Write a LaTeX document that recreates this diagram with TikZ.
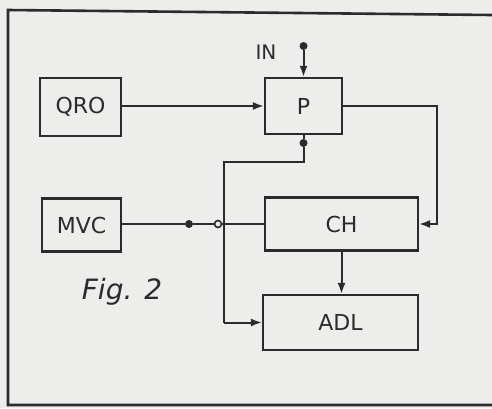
\documentclass[tikz,border=0pt]{standalone}
\usepackage{fontspec}
\setmainfont{DejaVu Sans}
\usetikzlibrary{arrows.meta}
\definecolor{paper}{HTML}{EDEDEB}
\definecolor{ink}{HTML}{2B2B2B}
\tikzset{
  blockbox/.style={draw=ink, line width=2.2pt, minimum width=#1, inner sep=0pt},
  wire/.style={draw=ink, line width=2pt},
  arr/.style={wire, -{Latex[length=11pt,width=8pt]}},
  lbl/.style={text=ink, font=\fontsize{22}{24}\selectfont},
  dot/.style={circle, fill=ink, inner sep=0pt, minimum size=8pt},
  odot/.style={circle, draw=ink, fill=paper, line width=1.6pt, inner sep=0pt, minimum size=7pt}
}
\begin{document}
\begin{tikzpicture}[x=1pt,y=-1pt]
\fill[paper] (0,0) rectangle (492,408);
\useasboundingbox (0,0) rectangle (492,408);
% frame
\draw[ink, line width=2.6pt] (492,15) -- (8,10) -- (8,405) -- (492,405);
% blocks
\node[blockbox=81pt, minimum height=58pt, lbl] (qro) at (80.5,107) {QRO};
\node[blockbox=77pt, minimum height=56pt, lbl] (p) at (303.5,106) {P};
\node[blockbox=79pt, minimum height=53pt, lbl] (mvc) at (81.5,225) {MVC};
\node[blockbox=153pt, minimum height=53pt, lbl] (ch) at (341.5,224) {CH};
\node[blockbox=155pt, minimum height=55pt, lbl] (adl) at (340.5,322.5) {ADL};
% labels
\node[lbl, font=\fontsize{20}{22}\selectfont] (inl) at (266,52) {IN};
\node[lbl, font=\fontsize{28}{30}\selectfont\itshape] (fig) at (122,292) {Fig. 2};
% IN input
\node[dot] (intop) at (303.5,46) {};
\draw[arr] (intop) -- (p.north);
% QRO -> P
\draw[arr] (qro.east |- p.west) -- (p.west);
% P -> CH (right loop)
\coordinate (pr) at (437,106);
\draw[arr] (p.east) -- (pr) |- (ch.east);
% P bottom -> ADL
\node[dot] (pb) at (303.5,143) {};
\coordinate (pbend) at (303.5,162);
\coordinate (lbend) at (224,162);
\coordinate (lbot) at (224,322.5);
\draw[wire] (p.south) -- (pb) -- (pbend) -- (lbend) -- (lbot);
\draw[arr] (lbot) -- (adl.west);
% MVC -> CH
\node[dot] (mdot) at (189,224) {};
\draw[wire] (mvc.east |- ch.west) -- (mdot) -- (ch.west);
\node[odot] (junc) at (218,224) {};
% CH -> ADL
\draw[arr] (ch.south) -- (ch.south |- adl.north);
\end{tikzpicture}
\end{document}
